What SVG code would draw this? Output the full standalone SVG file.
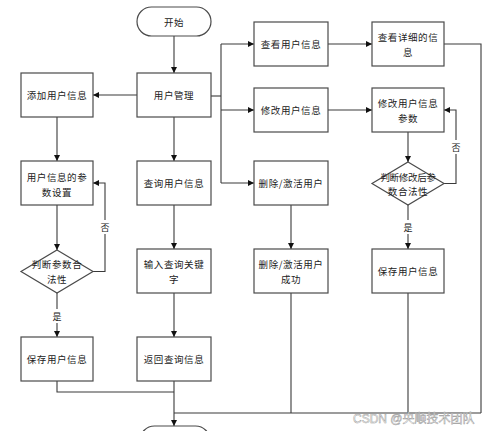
<svg xmlns="http://www.w3.org/2000/svg" width="499" height="431" viewBox="0 0 499 431">
<style>
.box{fill:#fff;stroke:#4a4a4a;stroke-width:1.2}
.ln{fill:none;stroke:#3a3a3a;stroke-width:1.1}
.t{font-family:"Noto Sans CJK SC","Liberation Sans",sans-serif;font-size:9.5px;fill:#222;text-anchor:middle;dominant-baseline:central;letter-spacing:0.6px}
.lbl{font-family:"Noto Sans CJK SC","Liberation Sans",sans-serif;font-size:9px;fill:#222;text-anchor:middle;dominant-baseline:central}
.wm{font-family:"Liberation Sans","Noto Sans CJK SC",sans-serif;font-size:12px;fill:#fff;stroke:#9a9a9a;stroke-width:0.5}
</style>
<defs>
<marker id="ar" viewBox="0 0 10 10" refX="10" refY="5" markerWidth="6" markerHeight="6" orient="auto" markerUnits="userSpaceOnUse">
<path d="M0,0 L10,5 L0,10 z" fill="#111"/>
</marker>
</defs>
<rect width="499" height="431" fill="#fff"/>
<g id="connectors">
<path class="ln" d="M174,36 V73" marker-end="url(#ar)"/>
<path class="ln" d="M137,95 H93" marker-end="url(#ar)"/>
<path class="ln" d="M211,96 H221"/>
<path class="ln" d="M221,44 V183"/>
<path class="ln" d="M221,44 H254" marker-end="url(#ar)"/>
<path class="ln" d="M221,110 H254" marker-end="url(#ar)"/>
<path class="ln" d="M221,183 H254" marker-end="url(#ar)"/>
<path class="ln" d="M174,117 V161" marker-end="url(#ar)"/>
<path class="ln" d="M57,117 V161" marker-end="url(#ar)"/>
<path class="ln" d="M57,205 V250" marker-end="url(#ar)"/>
<path class="ln" d="M93,271.5 H105 V183 H93" marker-end="url(#ar)"/>
<path class="ln" d="M57,293 V337" marker-end="url(#ar)"/>
<path class="ln" d="M174,205 V249" marker-end="url(#ar)"/>
<path class="ln" d="M174,293 V337" marker-end="url(#ar)"/>
<path class="ln" d="M57,381 V392 H174"/>
<path class="ln" d="M174,381 V426" marker-end="url(#ar)"/>
<path class="ln" d="M174,413 H481"/>
<path class="ln" d="M328,44 H372" marker-end="url(#ar)"/>
<path class="ln" d="M328,110 H372" marker-end="url(#ar)"/>
<path class="ln" d="M408,132 V162" marker-end="url(#ar)"/>
<path class="ln" d="M444,183.5 H456 V110 H444" marker-end="url(#ar)"/>
<path class="ln" d="M408,205 V249" marker-end="url(#ar)"/>
<path class="ln" d="M291,205 V249" marker-end="url(#ar)"/>
<path class="ln" d="M291,293 V413"/>
<path class="ln" d="M408,293 V413"/>
<path class="ln" d="M444,44 H481 V413"/>
<rect x="99" y="220" width="12" height="14" fill="#fff"/>
<text class="lbl" x="105" y="227">否</text>
<rect x="51" y="309" width="12" height="14" fill="#fff"/>
<text class="lbl" x="57" y="316">是</text>
<rect x="450" y="140" width="12" height="14" fill="#fff"/>
<text class="lbl" x="456" y="147">否</text>
<rect x="402" y="220" width="12" height="14" fill="#fff"/>
<text class="lbl" x="408" y="227">是</text>
</g>
<g id="start"><rect class="box" x="137" y="7" width="74" height="29" rx="14.5"/><text class="t" x="174" y="21.5">开始</text></g>
<g id="user-mgmt"><rect class="box" x="137" y="73" width="74" height="44"/><text class="t" x="174" y="95">用户管理</text></g>
<g id="add-user"><rect class="box" x="21" y="73" width="72" height="44"/><text class="t" x="57" y="95">添加用户信息</text></g>
<g id="param-set"><rect class="box" x="21" y="161" width="72" height="44"/><text class="t" x="57" y="177">用户信息的参</text><text class="t" x="57" y="192">数设置</text></g>
<g id="check-left"><polygon class="box" points="57,250 93,271.5 57,293 21,271.5"/><text class="t" x="57" y="264">判断参数合</text><text class="t" x="57" y="279">法性</text></g>
<g id="save-left"><rect class="box" x="21" y="337" width="72" height="44"/><text class="t" x="57" y="359">保存用户信息</text></g>
<g id="query-user"><rect class="box" x="137" y="161" width="74" height="44"/><text class="t" x="174" y="183">查询用户信息</text></g>
<g id="input-key"><rect class="box" x="137" y="249" width="74" height="44"/><text class="t" x="174" y="264">输入查询关键</text><text class="t" x="174" y="279">字</text></g>
<g id="return-query"><rect class="box" x="137" y="337" width="74" height="44"/><text class="t" x="174" y="359">返回查询信息</text></g>
<g id="end"><rect class="box" x="140" y="426" width="70" height="29" rx="14.5"/></g>
<g id="view-user"><rect class="box" x="254" y="22" width="74" height="44"/><text class="t" x="291" y="44">查看用户信息</text></g>
<g id="view-detail"><rect class="box" x="372" y="22" width="72" height="44"/><text class="t" x="408" y="37">查看详细的信</text><text class="t" x="408" y="52">息</text></g>
<g id="edit-user"><rect class="box" x="254" y="88" width="74" height="44"/><text class="t" x="291" y="110">修改用户信息</text></g>
<g id="edit-param"><rect class="box" x="372" y="88" width="72" height="44"/><text class="t" x="408" y="103">修改用户信息</text><text class="t" x="408" y="118">参数</text></g>
<g id="check-right"><polygon class="box" points="408,162 444,183.5 408,205 372,183.5"/><text class="t" x="408" y="177" style="letter-spacing:-0.3px">判断修改后参</text><text class="t" x="408" y="191">数合法性</text></g>
<g id="save-right"><rect class="box" x="372" y="249" width="72" height="44"/><text class="t" x="408" y="271">保存用户信息</text></g>
<g id="del-user"><rect class="box" x="254" y="161" width="74" height="44"/><text class="t" x="291" y="183">删除/激活用户</text></g>
<g id="del-ok"><rect class="box" x="254" y="249" width="74" height="44"/><text class="t" x="291" y="264">删除/激活用户</text><text class="t" x="291" y="279">成功</text></g>
<text class="wm" x="353" y="423">CSDN @央顺技术团队</text>
</svg>
